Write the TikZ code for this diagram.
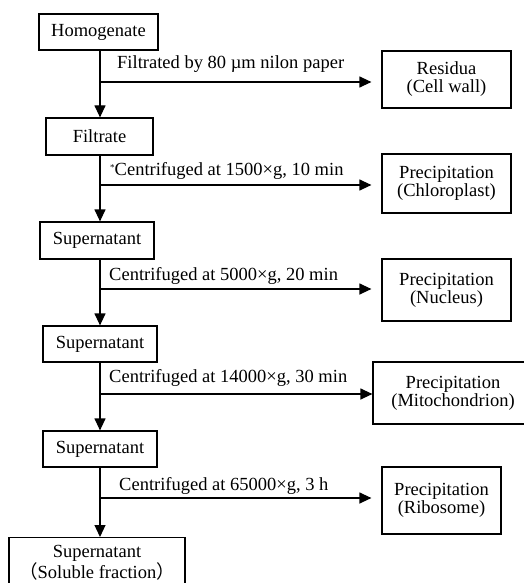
\documentclass[tikz,border=0pt]{standalone}
\usepackage{fontspec}
\setmainfont{Liberation Serif}
\newfontfamily\cjk{Noto Sans CJK SC}
\usetikzlibrary{arrows.meta}
\begin{document}
\begin{tikzpicture}[x=1pt,y=-1pt,
  every node/.style={font=\fontsize{18.5}{18}\selectfont},
  box/.style={draw,line width=1.2pt,inner sep=0pt,align=center},
  lbl/.style={anchor=base west,inner sep=0pt},
  arr/.style={line width=1.2pt,-{Triangle[length=12pt,width=11pt]}},
  ln/.style={line width=1.2pt}]
\useasboundingbox (0,0) rectangle (524,583);
\coordinate (trunk) at (100,0);
% boxes
\node[box,minimum width=119pt,minimum height=36pt] (hom) at (98.5,32) {Homogenate};
\node[box,minimum width=129pt,minimum height=57pt] (res) at (446.5,79.5) {Residua\\(Cell wall)};
\node[box,minimum width=107pt,minimum height=37pt] (fil) at (99.5,136.5) {Filtrate};
\node[box,minimum width=129pt,minimum height=59pt] (chl) at (446.5,183.5) {Precipitation\\(Chloroplast)};
\node[box,minimum width=114pt,minimum height=37pt] (sup1) at (97,240.5) {Supernatant};
\node[box,minimum width=129pt,minimum height=62pt] (nuc) at (446.5,290) {Precipitation\\(Nucleus)};
\node[box,minimum width=114pt,minimum height=36pt] (sup2) at (100,344) {Supernatant};
\node[box,minimum width=160pt,minimum height=62pt] (mit) at (453,393) {Precipitation\\(Mitochondrion)};
\node[box,minimum width=114pt,minimum height=36pt] (sup3) at (100,449) {Supernatant};
\node[box,minimum width=119pt,minimum height=67pt] (rib) at (441.5,500.5) {Precipitation\\(Ribosome)};
\node[box,minimum width=176pt,minimum height=50pt,anchor=north] (fin) at (97,537) {Supernatant\\{\cjk （}Soluble fraction{\cjk ）}};
% branch points
\coordinate (b1) at (100,82);
\coordinate (b2) at (100,185);
\coordinate (b3) at (100,289);
\coordinate (b4) at (100,394);
\coordinate (b5) at (100,498);
% trunk arrows
\draw[arr] (hom.south -| trunk) -- (fil.north -| trunk);
\draw[arr] (fil.south -| trunk) -- (sup1.north -| trunk);
\draw[arr] (sup1.south -| trunk) -- (sup2.north -| trunk);
\draw[arr] (sup2.south -| trunk) -- (sup3.north -| trunk);
\draw[arr] (sup3.south -| trunk) -- (fin.north -| trunk);
% branch arrows
\draw[arr] (b1) -- ([xshift=-10pt]res.west |- b1);
\draw[arr] (b2) -- ([xshift=-10pt]chl.west |- b2);
\draw[arr] (b3) -- ([xshift=-10pt]nuc.west |- b3);
\draw[arr] (b4) -- (mit.west |- b4);
\draw[arr] (b5) -- ([xshift=-10pt]rib.west |- b5);
% labels
\node[lbl] (t1) at (117,69) {Filtrated by 80 µm nilon paper};
\node[lbl] (t2) at (110,175.5) {\raisebox{0.55ex}{\fontsize{9}{9}\selectfont *}Centrifuged at 1500×g, 10 min};
\node[lbl] (t3) at (109,280.5) {Centrifuged at 5000×g, 20 min};
\node[lbl] (t4) at (109,382.5) {Centrifuged at 14000×g, 30 min};
\node[lbl] (t5) at (119,490) {Centrifuged at 65000×g, 3 h};
\end{tikzpicture}
\end{document}
